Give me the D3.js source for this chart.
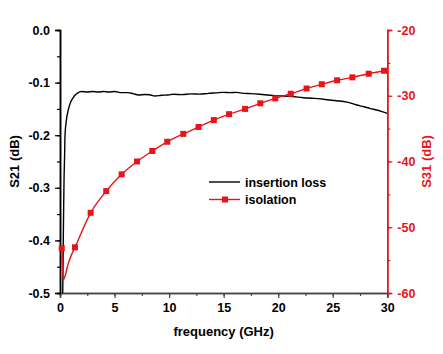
<!DOCTYPE html>
<html><head><meta charset="utf-8">
<script src="https://cdn.jsdelivr.net/npm/d3@7"></script>
<style>body{margin:0;background:#fff}text{font-family:"Liberation Sans",Arial,sans-serif;font-weight:bold}</style>
</head><body><svg id="c" width="443" height="354"></svg>
<script>
// Insertion loss S21 (dB) vs frequency (GHz)
const ilFreq = [0.25,0.30,0.34,0.37,0.42,0.46,0.58,0.76,0.98,1.2,1.37,1.6,1.98,2.5,3.0,3.5,4.0,4.5,5.0,5.65,6.2,6.7,7.2,7.8,8.2,8.7,9.3,9.9,10.4,11.2,12.0,12.8,13.6,14.3,14.97,15.6,16.2,16.8,17.5,18.3,19.0,19.7,20.5,21.3,22.3,23.3,24.3,25.35,26.3,27.2,27.8,28.4,29.2,30.0];
const ilVal  = [-0.50,-0.40,-0.33,-0.285,-0.24,-0.20,-0.172,-0.152,-0.137,-0.129,-0.124,-0.120,-0.117,-0.118,-0.117,-0.118,-0.117,-0.118,-0.117,-0.119,-0.119,-0.121,-0.1236,-0.1225,-0.123,-0.1255,-0.124,-0.1235,-0.1222,-0.1228,-0.1215,-0.122,-0.1205,-0.1195,-0.1185,-0.119,-0.1185,-0.1204,-0.121,-0.1222,-0.1235,-0.1249,-0.1255,-0.1265,-0.1287,-0.130,-0.132,-0.1344,-0.137,-0.1426,-0.1455,-0.1489,-0.153,-0.1584];
// Isolation S31 (dB): marker points
const isoFreq = [0.16,1.37,2.81,4.24,5.65,7.06,8.46,9.83,11.3,12.7,14.1,15.5,16.96,18.36,19.73,21.15,22.6,24.0,25.4,26.8,28.3,29.7];
const isoVal  = [-53.2,-53.05,-47.8,-44.5,-41.95,-40.0,-38.4,-37.0,-35.8,-34.75,-33.7,-32.8,-32.0,-31.15,-30.4,-29.7,-28.9,-28.25,-27.65,-27.2,-26.65,-26.2];
// Isolation line-only points (dip near DC)
const isoDipFreq = [0.02,0.24,0.32,0.45,0.76,1.05];
const isoDipVal  = [-52.9,-56.5,-58.0,-57.5,-55.5,-54.2];
const xTicks = [0,5,10,15,20,25,30];
const yLeftTicks = [0.0,-0.1,-0.2,-0.3,-0.4,-0.5];
const yRightTicks = [-20,-30,-40,-50,-60];
const legendLabels = ["insertion loss","isolation"];

const RED = "#e8141a";
const svg = d3.select("#c");
const L=60,R=387.3,T=30,B=293;
const x = d3.scaleLinear().domain([0,30]).range([L,R]);
const yL = d3.scaleLinear().domain([-0.5,0]).range([B,T]);
const yR = d3.scaleLinear().domain([-60,-20]).range([B,T]);
const fmtL = d => d3.format(".1f")(d).replace("−","-");
const fmtR = d => String(d).replace("−","-");

svg.append("defs").append("clipPath").attr("id","clip").append("rect").attr("x",L).attr("y",T).attr("width",R-L).attr("height",B-T);

const gx = svg.append("g").attr("transform",`translate(0,${B})`);
gx.call(d3.axisBottom(x).tickValues(d3.range(0,30.1,2.5)).tickSize(3).tickFormat(""));
gx.append("g").call(d3.axisBottom(x).tickValues(xTicks).tickSize(5).tickPadding(5).tickFormat(d=>d));
gx.selectAll("path").attr("stroke","#444").attr("stroke-width",1.5);
gx.selectAll("line").attr("stroke","#444").attr("stroke-width",1.2);
gx.selectAll("text").attr("font-size",12.5).attr("fill","#000");

const gl = svg.append("g").attr("transform",`translate(${L},0)`);
gl.call(d3.axisLeft(yL).tickValues(d3.range(-0.5,0.001,0.05)).tickSize(3).tickFormat(""));
gl.append("g").call(d3.axisLeft(yL).tickValues(yLeftTicks).tickSize(5).tickPadding(5).tickFormat(fmtL));
gl.selectAll("path").attr("stroke","#000").attr("stroke-width",1.5);
gl.selectAll("line").attr("stroke","#000").attr("stroke-width",1.2);
gl.selectAll("text").attr("font-size",12.5).attr("fill","#000");

const gr = svg.append("g").attr("transform",`translate(${R},0)`);
gr.call(d3.axisRight(yR).tickValues(d3.range(-60,-19.9,5)).tickSize(3).tickFormat(""));
gr.append("g").call(d3.axisRight(yR).tickValues(yRightTicks).tickSize(5).tickPadding(5).tickFormat(fmtR));
gr.selectAll("path").attr("stroke",RED).attr("stroke-width",1.5);
gr.selectAll("line").attr("stroke",RED).attr("stroke-width",1.2);
gr.selectAll("text").attr("font-size",12.5).attr("fill",RED);

// titles
svg.append("text").attr("x",x(15)).attr("y",336).attr("text-anchor","middle").attr("font-size",13).text("frequency (GHz)");
svg.append("text").attr("transform",`translate(19,${(T+B)/2}) rotate(-90)`).attr("text-anchor","middle").attr("font-size",13).text("S21 (dB)");
svg.append("text").attr("transform",`translate(431,${(T+B)/2}) rotate(-90)`).attr("text-anchor","middle").attr("font-size",13).attr("fill",RED).text("S31 (dB)");

const plot = svg.append("g").attr("clip-path","url(#clip)");
// insertion loss
const ilData = ilFreq.map((f,i)=>[f,ilVal[i]]);
plot.append("path").datum(ilData).attr("fill","none").attr("stroke","#000").attr("stroke-width",1.4)
  .attr("d",d3.line().curve(d3.curveMonotoneX).x(d=>x(d[0])).y(d=>yL(d[1])));
// isolation
const isoMarks = isoFreq.map((f,i)=>[f,isoVal[i]]);
const isoLine = isoMarks.concat(isoDipFreq.map((f,i)=>[f,isoDipVal[i]])).sort((a,b)=>a[0]-b[0]);
plot.append("path").datum(isoLine).attr("fill","none").attr("stroke",RED).attr("stroke-width",1.4)
  .attr("d",d3.line().curve(d3.curveMonotoneX).x(d=>x(d[0])).y(d=>yR(d[1])));
svg.append("g").selectAll("rect").data(isoMarks).join("rect")
  .attr("x",d=>x(d[0])-3).attr("y",d=>yR(d[1])-3).attr("width",6).attr("height",6).attr("fill",RED);

// legend
const lg = svg.append("g");
lg.append("line").attr("x1",209).attr("x2",240).attr("y1",182).attr("y2",182).attr("stroke","#000").attr("stroke-width",1.4);
lg.append("text").attr("x",245).attr("y",186.5).attr("font-size",12.5).text(legendLabels[0]);
lg.append("line").attr("x1",209).attr("x2",240).attr("y1",199.5).attr("y2",199.5).attr("stroke",RED).attr("stroke-width",1.4);
lg.append("rect").attr("x",222).attr("y",196.5).attr("width",6).attr("height",6).attr("fill",RED);
lg.append("text").attr("x",245).attr("y",204).attr("font-size",12.5).text(legendLabels[1]);
</script></body></html>
